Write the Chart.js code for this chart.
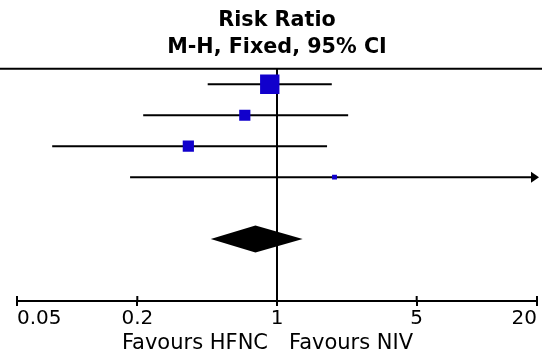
<!DOCTYPE html>
<html>
<head>
<meta charset="utf-8">
<script src="https://cdn.jsdelivr.net/npm/chart.js@4"></script>
<style>
  html, body { margin: 0; padding: 0; background: #fff; }
  #chart { display: block; }
</style>
</head>
<body>
<canvas id="chart" width="542" height="356"></canvas>
<script>
// Data
const rows = [0, 1, 2, 3];
const riskRatio = [0.92, 0.69, 0.36, 1.94];
const ciLow = [0.45, 0.214, 0.075, 0.184];
const ciHigh = [1.88, 2.27, 1.78, 20.6];
const weights = [57.7, 19.3, 19.3, 3.7];
const pooledRow = 5;
const pooled = [0.466, 0.78, 1.344]; // low, estimate, high
const tickValues = [0.05, 0.2, 1, 5, 20];
const tickLabels = ['0.05', '0.2', '1', '5', '20'];
const headerLines = ['Risk Ratio', 'M-H, Fixed, 95% CI'];
const favoursLeft = 'Favours HFNC';
const favoursRight = 'Favours NIV';

const xMin = tickValues[0];
const xMax = tickValues[tickValues.length - 1];
const FONT = "'DejaVu Sans', sans-serif";

// CI lines, one dataset per row
const ciSets = rows.map((r, i) => ({
  type: 'line',
  data: [{ x: ciLow[i], y: r }, { x: Math.min(ciHigh[i], xMax), y: r }],
  borderColor: '#000',
  borderWidth: 2,
  pointRadius: 0,
  order: 2
}));

// line of no effect
const nullLine = {
  type: 'line',
  data: [{ x: 1, y: -0.5 }, { x: 1, y: 7 }],
  borderColor: '#000',
  borderWidth: 2,
  pointRadius: 0,
  order: 3
};

const squares = {
  type: 'scatter',
  data: rows.map((r, i) => ({ x: riskRatio[i], y: r })),
  pointStyle: 'rect',
  pointRadius: weights.map(w => 2.55 * Math.sqrt(w) / Math.SQRT2),
  backgroundColor: '#1100CC',
  borderWidth: 0,
  order: 0
};

const forestExtras = {
  id: 'forestExtras',
  afterDatasetsDraw(chart) {
    const { ctx, chartArea, scales: { x, y } } = chart;
    ctx.save();
    // pooled diamond
    const yc = y.getPixelForValue(pooledRow);
    ctx.fillStyle = '#000';
    ctx.beginPath();
    ctx.moveTo(x.getPixelForValue(pooled[0]), yc);
    ctx.lineTo(x.getPixelForValue(pooled[1]), yc - 13.5);
    ctx.lineTo(x.getPixelForValue(pooled[2]), yc);
    ctx.lineTo(x.getPixelForValue(pooled[1]), yc + 13.5);
    ctx.closePath();
    ctx.fill();
    // arrows where the CI runs off the axis
    rows.forEach((r, i) => {
      if (ciHigh[i] > xMax) {
        const py = y.getPixelForValue(r);
        const tip = chartArea.right + 2;
        ctx.beginPath();
        ctx.moveTo(tip, py);
        ctx.lineTo(tip - 8, py - 5.5);
        ctx.lineTo(tip - 8, py + 5.5);
        ctx.closePath();
        ctx.fill();
      }
    });
    ctx.restore();
  },
  afterDraw(chart) {
    const { ctx, chartArea, scales: { x } } = chart;
    ctx.save();
    ctx.strokeStyle = '#000';
    ctx.lineWidth = 2;
    // header rule
    ctx.beginPath();
    ctx.moveTo(0, chartArea.top);
    ctx.lineTo(chart.width, chartArea.top);
    ctx.stroke();
    // upper half of axis ticks
    x.ticks.forEach(t => {
      const px = x.getPixelForValue(t.value);
      ctx.beginPath();
      ctx.moveTo(px, chartArea.bottom - 5);
      ctx.lineTo(px, chartArea.bottom);
      ctx.stroke();
    });
    // favours labels
    const x1 = x.getPixelForValue(1);
    ctx.fillStyle = '#000';
    ctx.font = '21px ' + FONT;
    ctx.textBaseline = 'middle';
    ctx.textAlign = 'right';
    ctx.fillText(favoursLeft, x1 - 9, 344);
    ctx.textAlign = 'left';
    ctx.fillText(favoursRight, x1 + 12, 344);
    ctx.restore();
  }
};

new Chart(document.getElementById('chart').getContext('2d'), {
  data: { datasets: [squares, ...ciSets, nullLine] },
  options: {
    responsive: false,
    animation: false,
    devicePixelRatio: 1,
    layout: { autoPadding: false, padding: { left: 17, right: 5, bottom: 24, top: 0 } },
    plugins: {
      legend: { display: false },
      tooltip: { enabled: false },
      title: {
        display: true,
        fullSize: false,
        text: headerLines,
        color: '#000',
        font: { family: FONT, size: 20.7, weight: 'bold', lineHeight: 1.3 },
        padding: { top: 7, bottom: 8 }
      }
    },
    scales: {
      x: {
        type: 'logarithmic',
        position: 'bottom',
        min: xMin,
        max: xMax,
        afterBuildTicks: s => { s.ticks = tickValues.map(v => ({ value: v })); },
        afterFit: s => { s.paddingLeft = 0; s.paddingRight = 0; },
        ticks: {
          autoSkip: false,
          maxRotation: 0,
          align: 'inner',
          padding: 1,
          color: '#000',
          font: { family: FONT, size: 20 },
          callback: (v) => tickLabels[tickValues.indexOf(v)]
        },
        grid: { drawOnChartArea: false, drawTicks: true, tickLength: 5, color: '#000', lineWidth: 2 },
        border: { display: true, color: '#000', width: 2 }
      },
      y: {
        type: 'linear',
        display: false,
        min: -0.5,
        max: 7,
        reverse: true
      }
    }
  },
  plugins: [forestExtras]
});
</script>
</body>
</html>
